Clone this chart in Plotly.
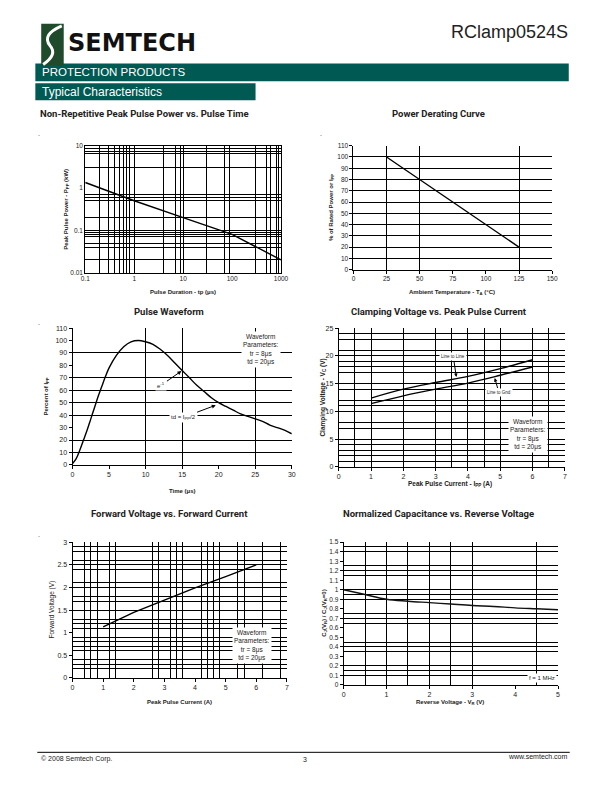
import plotly.graph_objects as go

W, H = 612, 792

def px(x):
    return x / W

def py(y):
    return 1 - y / H

# ---------------- DATA ----------------
# Chart 1: Non-Repetitive Peak Pulse Power vs. Pulse Time
pp_tp = [0.1, 1, 10, 100, 1000]
pp_kw = [1.35, 0.5, 0.2, 0.08, 0.02]
pp_xticks = [0.1, 1, 10, 100, 1000]
pp_xtext = ["0.1", "1", "10", "100", "1000"]
pp_yticks = [0.01, 0.1, 1, 10]
pp_ytext = ["0.01", "0.1", "1", "10"]
pp_xgrid = [0.2, 0.3, 0.4, 0.5, 0.6, 0.7, 0.8, 1, 4, 7, 9, 10, 30, 70, 90, 300, 500, 600, 800, 900]
pp_ygrid = [0.02, 0.04, 0.05, 0.07, 0.08, 0.09, 0.1, 0.2, 0.5, 0.6, 0.7, 3, 6.5, 7.5, 8.5]

# Chart 2: Power Derating Curve
dr_temp = [25, 125]
dr_pct = [100, 20]
dr_xticks = [0, 25, 50, 75, 100, 125, 150]
dr_yticks = [0, 10, 20, 30, 40, 50, 60, 70, 80, 90, 100, 110]
dr_xgrid = [25, 50, 125]
dr_ygrid = [10, 20, 30, 40, 50, 60, 70, 80, 90, 100, 110]

# Chart 3: Pulse Waveform
pw_t = [0, 0.5, 1, 1.5, 2, 2.5, 3, 3.5, 4, 4.5, 5, 6, 7, 8, 9, 10, 11, 12, 13, 14, 15,
        16, 17, 18, 19, 20, 21, 22, 23, 24, 25, 26, 27, 28, 29, 30]
pw_pct = [1, 5, 12, 20, 28, 37, 46, 55, 63, 71, 78, 88, 95, 99, 100, 99, 97, 93, 88, 82, 76,
          70, 64, 59, 54, 50, 47, 44, 41, 39, 37, 35, 32, 30, 28, 25]
pw_xticks = [0, 5, 10, 15, 20, 25, 30]
pw_yticks = [0, 10, 20, 30, 40, 50, 60, 70, 80, 90, 100, 110]
pw_xgrid = [10, 15, 25]
pw_ygrid = [10, 20, 40, 50, 60, 70, 90]

# Chart 4: Clamping Voltage vs. Peak Pulse Current
cv_ipp = [1, 2, 3, 4, 5, 6]
cv_line_line = [12.4, 14.0, 15.2, 16.3, 17.7, 19.3]
cv_line_gnd = [11.4, 12.8, 14.0, 15.1, 16.5, 18.0]
cv_xticks = [0, 1, 2, 3, 4, 5, 6, 7]
cv_yticks = [0, 5, 10, 15, 20, 25]
cv_xgrid = [0.5, 1, 2, 3, 3.5, 4, 4.5, 5, 6, 6.5]
cv_ygrid = [1, 2, 3, 4, 5, 7, 8, 10, 11, 12, 14, 15, 17, 18, 19, 20, 21, 23, 24, 25]

# Chart 5: Forward Voltage vs. Forward Current
fv_i = [1, 2, 3, 4, 5, 6]
fv_v = [1.13, 1.45, 1.72, 1.99, 2.24, 2.5]
fv_xticks = [0, 1, 2, 3, 4, 5, 6, 7]
fv_yticks = [0, 0.5, 1, 1.5, 2, 2.5, 3]
fv_ytext = ["0", "0.5", "1", "1.5", "2", "2.5", "3"]
fv_xgrid = [0.4, 0.6, 0.8, 1.2, 1.4, 2.6, 2.8, 3.2, 3.4, 3.6, 4.2, 4.4, 4.6, 4.8, 5.4, 5.6, 6.2, 6.8]
fv_ygrid = [0.2, 0.3, 0.4, 0.6, 0.7, 0.8, 0.9, 1.1, 1.2, 1.3, 1.5, 1.7, 1.8, 2.0, 2.1, 2.4, 2.5, 2.6, 2.8, 2.9]

# Chart 6: Normalized Capacitance vs. Reverse Voltage
nc_vr = [0, 0.5, 1, 1.5, 2, 2.5, 3, 3.5, 4, 4.5, 5]
nc_c = [1.0, 0.95, 0.9, 0.88, 0.865, 0.85, 0.835, 0.825, 0.81, 0.80, 0.79]
nc_xticks = [0, 1, 2, 3, 4, 5]
nc_yticks = [0, 0.1, 0.2, 0.3, 0.4, 0.5, 0.6, 0.7, 0.8, 0.9, 1, 1.1, 1.2, 1.3, 1.4, 1.5]
nc_ytext = ["0", "0.1", "0.2", "0.3", "0.4", "0.5", "0.6", "0.7", "0.8", "0.9", "1",
            "1.1", "1.2", "1.3", "1.4", "1.5"]
nc_xgrid = [0.5, 1, 1.5, 2, 2.5, 3, 4.5]
nc_ygrid = [0.1, 0.15, 0.2, 0.35, 0.4, 0.45, 0.65, 0.7, 0.75, 0.9, 0.95, 1.0, 1.15, 1.2, 1.25, 1.4, 1.45, 1.5]

# ---------------- FIGURE ----------------
TEAL = "#005A54"
LINE = dict(color="black", width=1.4)

fig = go.Figure()

fig.add_trace(go.Scatter(x=pp_tp, y=pp_kw, xaxis="x", yaxis="y", mode="lines", line=LINE))
fig.add_trace(go.Scatter(x=dr_temp, y=dr_pct, xaxis="x2", yaxis="y2", mode="lines", line=LINE))
fig.add_trace(go.Scatter(x=pw_t, y=pw_pct, xaxis="x3", yaxis="y3", mode="lines",
                         line=dict(color="black", width=1.4, shape="spline")))
fig.add_trace(go.Scatter(x=cv_ipp, y=cv_line_line, xaxis="x4", yaxis="y4", mode="lines",
                         line=dict(color="black", width=1.4, shape="spline")))
fig.add_trace(go.Scatter(x=cv_ipp, y=cv_line_gnd, xaxis="x4", yaxis="y4", mode="lines",
                         line=dict(color="black", width=1.4, shape="spline")))
fig.add_trace(go.Scatter(x=fv_i, y=fv_v, xaxis="x5", yaxis="y5", mode="lines", line=LINE))
fig.add_trace(go.Scatter(x=nc_vr, y=nc_c, xaxis="x6", yaxis="y6", mode="lines",
                         line=dict(color="#111", width=1.4, shape="spline")))


def axis(domain, rng, tickvals, ticktext, grid, anchor, typ="linear", mirror=False,
         ticks="outside", fontsize=6.5):
    return dict(
        domain=domain, range=rng, type=typ, anchor=anchor,
        tickmode="array", tickvals=tickvals, ticktext=ticktext,
        showgrid=False, zeroline=False,
        showline=True, linecolor="black", linewidth=1, mirror=mirror,
        ticks=ticks, ticklen=3, tickcolor="black", tickwidth=1,
        tickfont=dict(family="Liberation Sans", size=fontsize, color="#222"),
        minor=dict(tickmode="array", tickvals=grid, showgrid=True,
                   gridcolor="black", gridwidth=1, ticks=""),
        fixedrange=True,
    )


def s(v):
    return [str(a) for a in v]

layout = dict(
    width=W, height=H, margin=dict(l=0, r=0, t=0, b=0),
    paper_bgcolor="white", plot_bgcolor="white", showlegend=False,
    font=dict(family="Liberation Sans", color="#222"),
)

# chart 1
layout["xaxis"] = axis([px(82), px(282)], [-1, 3], pp_xticks, pp_xtext, pp_xgrid, "y",
                       typ="log", mirror=True, ticks="")
layout["yaxis"] = axis([py(271), py(143)], [-2, 1], pp_yticks, pp_ytext, pp_ygrid, "x",
                       typ="log", mirror=True, ticks="")
# chart 2
layout["xaxis2"] = axis([px(356), px(559)], [0, 150], dr_xticks, s(dr_xticks), dr_xgrid, "y2")
layout["yaxis2"] = axis([py(268), py(143)], [0, 110], dr_yticks, s(dr_yticks), dr_ygrid, "x2")
# chart 3
layout["xaxis3"] = axis([px(69), px(293)], [0, 30], pw_xticks, s(pw_xticks), pw_xgrid, "y3",
                        fontsize=7)
layout["yaxis3"] = axis([py(465), py(327)], [0, 110], pw_yticks, s(pw_yticks), pw_ygrid, "x3",
                        fontsize=7)
# chart 4
layout["xaxis4"] = axis([px(341), px(572)], [0, 7], cv_xticks, s(cv_xticks), cv_xgrid, "y4",
                        fontsize=7)
layout["yaxis4"] = axis([py(467), py(327)], [0, 25], cv_yticks, s(cv_yticks), cv_ygrid, "x4",
                        fontsize=7)
# chart 5
layout["xaxis5"] = axis([px(69), px(288)], [0, 7], fv_xticks, s(fv_xticks), fv_xgrid, "y5",
                        fontsize=7)
layout["yaxis5"] = axis([py(680), py(543)], [0, 3], fv_yticks, fv_ytext, fv_ygrid, "x5",
                        fontsize=7)
# chart 6
layout["xaxis6"] = axis([px(346), px(565)], [0, 5], nc_xticks, s(nc_xticks), nc_xgrid, "y6",
                        fontsize=7)
layout["yaxis6"] = axis([py(687), py(543)], [0, 1.5], nc_yticks, nc_ytext, nc_ygrid, "x6",
                        fontsize=6.5)

fig.update_layout(**layout)

ann = []


def text(x, y, t, size=7, bold=False, color="#222", xanchor="center", yanchor="middle",
         family="Liberation Sans", angle=0, bg=None):
    d = dict(x=px(x), y=py(y), xref="paper", yref="paper", text=("<b>%s</b>" % t) if bold else t,
             showarrow=False, xanchor=xanchor, yanchor=yanchor, textangle=angle,
             font=dict(family=family, size=size, color=color))
    if bg:
        d["bgcolor"] = bg
    ann.append(d)

# header
text(577, 28, "RClamp0524S", size=18, xanchor="right", color="#222")
text(62, 39, "SEMTECH", size=24, bold=True, xanchor="left", color="#111", family="DejaVu Sans")
text(36, 69, "PROTECTION PRODUCTS", size=11.5, xanchor="left", color="white")
text(36, 88.5, "Typical Characteristics", size=12, xanchor="left", color="white")

# chart titles
TF = "Roboto"
TS = 9.5
text(143, 110, "Non-Repetitive Peak Pulse Power vs. Pulse Time", size=TS, bold=True, family=TF)
text(443, 110, "Power Derating Curve", size=TS, bold=True, family=TF)
text(168, 310, "Pulse Waveform", size=TS, bold=True, family=TF)
text(443, 310, "Clamping Voltage vs. Peak Pulse Current", size=TS, bold=True, family=TF)
text(168, 514, "Forward Voltage vs. Forward Current", size=TS, bold=True, family=TF)
text(443, 514, "Normalized Capacitance vs. Reverse Voltage", size=TS, bold=True, family=TF)

# axis titles
AT = 6
text(182, 291, "Pulse Duration - tp (μs)", size=AT, bold=True)
text(62, 207, "Peak Pulse Power - P<sub>PP</sub> (kW)", size=AT, bold=True, angle=-90)
text(457, 291, "Ambient Temperature - T<sub>A</sub> (°C)", size=AT, bold=True)
text(333, 205, "% of Rated Power or I<sub>PP</sub>", size=AT, bold=True, angle=-90)
text(181, 491, "Time (μs)", size=AT, bold=True)
text(42, 396, "Percent of I<sub>PP</sub>", size=AT, bold=True, angle=-90)
text(455, 484, "Peak Pulse Current - I<sub>PP</sub> (A)", size=6.5, bold=True)
text(325, 397, "Clamping Voltage - V<sub>C</sub> (V)", size=6.5, bold=True, angle=-90)
text(178, 704, "Peak Pulse Current (A)", size=AT, bold=True)
text(48, 611, "Forward Voltage (V)", size=6.5, angle=-90)
text(455, 705, "Reverse Voltage - V<sub>R</sub> (V)", size=AT, bold=True)
text(326, 615, "C<sub>J</sub>(V<sub>R</sub>) / C<sub>J</sub>(V<sub>R</sub>=0)", size=AT, bold=True,
     angle=-90)

# parameter boxes
text(262, 349, "Waveform<br>Parameters:<br>tr = 8μs<br>td = 20μs", size=6.5, bg="white")
text(534, 434, "Waveform<br>Parameters:<br>tr = 8μs<br>td = 20μs", size=6.5, bg="white")
text(252, 647, "Waveform<br>Parameters:<br>tr = 8μs<br>td = 20μs", size=6.5, bg="white")
text(549, 680, "f = 1 MHz", size=6, bg="white")

# stray marks
for (x, y) in [(35, 131), (323, 131), (35, 321), (35, 535)]:
    text(x, y, ".", size=7, color="#333")

# footer
text(35, 762, "© 2008 Semtech Corp.", size=7, xanchor="left")
text(307, 762, "3", size=7)
text(577, 759, "www.semtech.com", size=7, xanchor="right")

# arrows with labels (data-referenced tips)
ann.append(dict(x=14.9, y=75.5, xref="x3", yref="y3", ax=-20, ay=14, text="e<sup>-1</sup>",
                showarrow=True, arrowhead=2, arrowsize=0.8, arrowwidth=1, arrowcolor="black",
                font=dict(family="Liberation Sans", size=6, color="#222"), bgcolor="white"))
ann.append(dict(x=19.6, y=48, xref="x3", yref="y3", ax=-32, ay=12,
                text="td = I<sub>PP</sub>/2", showarrow=True, arrowhead=2, arrowsize=0.8,
                arrowwidth=1, arrowcolor="black",
                font=dict(family="Liberation Sans", size=6, color="#222"), bgcolor="white"))
ann.append(dict(x=3.64, y=16.2, xref="x4", yref="y4", ax=-3, ay=-20, text="Line to Line",
                showarrow=True, arrowhead=2, arrowsize=0.7, arrowwidth=1, arrowcolor="black",
                font=dict(family="Liberation Sans", size=4.5, color="#222"), bgcolor="white"))
ann.append(dict(x=4.83, y=16.0, xref="x4", yref="y4", ax=4, ay=14, text="Line to Gnd",
                showarrow=True, arrowhead=2, arrowsize=0.7, arrowwidth=1, arrowcolor="black",
                font=dict(family="Liberation Sans", size=4.5, color="#222"), bgcolor="white"))

fig.update_layout(annotations=ann)

# shapes: header bars, logo, footer rule
def P(x, y):
    return "%f,%f" % (px(x), py(y))

shapes = [
    dict(type="rect", xref="paper", yref="paper", x0=px(31), x1=px(576), y0=py(78), y1=py(60),
         fillcolor=TEAL, line=dict(width=0), layer="below"),
    dict(type="rect", xref="paper", yref="paper", x0=px(31), x1=px(256), y0=py(97), y1=py(80),
         fillcolor=TEAL, line=dict(width=0), layer="below"),
    dict(type="rect", xref="paper", yref="paper", x0=px(37), x1=px(60), y0=py(62), y1=py(20),
         fillcolor="#1F4A2C", line=dict(width=0)),
    dict(type="path", xref="paper", yref="paper",
         path="M %s Q %s %s Q %s %s" % (P(58, 22), P(37, 31), P(46, 42), P(54, 51), P(39, 61)),
         line=dict(color="white", width=3)),
    dict(type="line", xref="paper", yref="paper", x0=px(33), x1=px(577), y0=py(755), y1=py(755),
         line=dict(color="black", width=1)),
]
fig.update_layout(shapes=shapes)

fig.write_html("out.html")
